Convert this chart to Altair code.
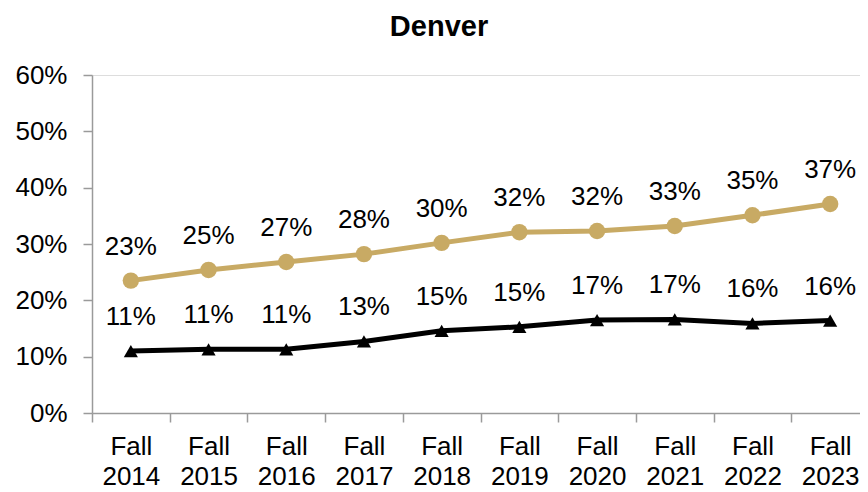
import json
import altair as alt
import pandas as pd

years = ["Fall 2014", "Fall 2015", "Fall 2016", "Fall 2017", "Fall 2018",
         "Fall 2019", "Fall 2020", "Fall 2021", "Fall 2022", "Fall 2023"]
gold_vals = [0.235, 0.254, 0.268, 0.282, 0.302, 0.321, 0.323, 0.332, 0.351, 0.371]
gold_labels = ["23%", "25%", "27%", "28%", "30%", "32%", "32%", "33%", "35%", "37%"]
black_vals = [0.110, 0.113, 0.113, 0.127, 0.146, 0.153, 0.165, 0.166, 0.159, 0.164]
black_labels = ["11%", "11%", "11%", "13%", "15%", "15%", "17%", "17%", "16%", "16%"]
y_ticks = [0, 0.1, 0.2, 0.3, 0.4, 0.5, 0.6]

FONT = "Liberation Sans"
GOLD = "#C8AA64"
AXIS_GREY = "#9a9a9a"

rows = []
for i, y in enumerate(years):
    rows.append({"idx": i, "series": "gold", "value": gold_vals[i], "label": gold_labels[i]})
    rows.append({"idx": i, "series": "black", "value": black_vals[i], "label": black_labels[i]})
df = pd.DataFrame(rows)

n = len(years)
# plot area shows the first ~9.9 category bands (the last band is cropped at the right)
xscale = alt.Scale(domain=[-0.5, n - 0.616], nice=False, zero=False)
label_expr = "split(" + json.dumps(years) + "[datum.value], ' ')"

x_ticks_axis = alt.X("idx:Q", scale=xscale,
                     axis=alt.Axis(title=None, orient="bottom", values=[i - 0.5 for i in range(n + 1)],
                                   labels=False, tickSize=9, tickColor=AXIS_GREY, tickWidth=1.5,
                                   domainColor=AXIS_GREY, domainWidth=1.5, grid=False))
x_label_axis = alt.X("idx:Q", scale=xscale,
                     axis=alt.Axis(title=None, orient="bottom", values=list(range(n)),
                                   labelExpr=label_expr, labelAngle=0,
                                   labelFont=FONT, labelFontSize=26, labelColor="#000",
                                   labelLineHeight=30, labelPadding=20, labelBaseline="top",
                                   ticks=False, domain=False, grid=False))
x_plain = alt.X("idx:Q", scale=xscale, axis=None)

y = alt.Y("value:Q",
          scale=alt.Scale(domain=[0, 0.6], nice=False),
          axis=alt.Axis(title=None, values=y_ticks, format=".0%",
                        labelFont=FONT, labelFontSize=26, labelColor="#000",
                        labelPadding=16, tickSize=9, tickColor=AXIS_GREY, tickWidth=1.5,
                        domainColor=AXIS_GREY, domainWidth=1.5, grid=False))

color = alt.Color("series:N", scale=alt.Scale(domain=["gold", "black"], range=[GOLD, "#000000"]),
                  legend=None)

base = alt.Chart(df)
lines = base.mark_line(strokeWidth=5).encode(x=x_ticks_axis, y=y, color=color, detail="series:N")
circles = base.transform_filter(alt.datum.series == "gold").mark_point(
    shape="circle", filled=True, size=270, opacity=1, color=GOLD).encode(x=x_plain, y=y)
tris = base.transform_filter(alt.datum.series == "black").mark_point(
    shape="triangle-up", filled=True, size=200, opacity=1, color="#000").encode(x=x_plain, y=y)
labels = base.mark_text(font=FONT, fontSize=26, dy=-34, baseline="middle", color="#000").encode(
    x=x_label_axis, y=y, text="label:N")

chart = alt.layer(lines, circles, tris, labels).resolve_axis(x="independent").properties(
    width=768, height=338,
    title=alt.TitleParams("Denver", font=FONT, fontSize=29, fontWeight="bold", color="#000",
                          anchor="middle", dx=-37, offset=20),
    autosize=alt.AutoSizeParams(type="none"),
    padding={"left": 84, "top": 67, "right": 0, "bottom": 79},
).configure_view(stroke=None).configure(background="white")

chart.save("out.html", embed_options={"renderer": "svg", "actions": False})
